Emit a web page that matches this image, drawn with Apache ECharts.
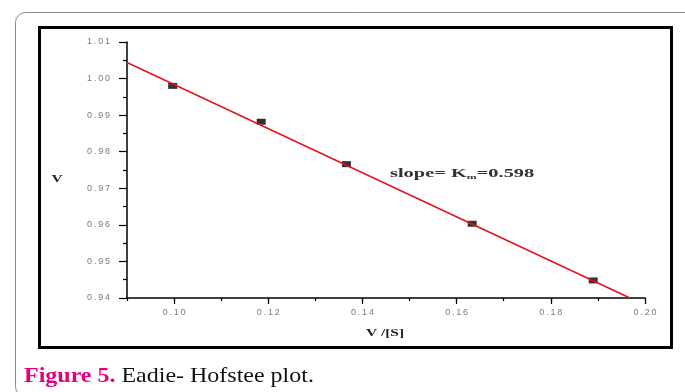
<!DOCTYPE html>
<html>
<head>
<meta charset="utf-8">
<script src="https://cdn.jsdelivr.net/npm/echarts@6/dist/echarts.min.js"></script>
<style>
html,body{margin:0;padding:0;background:#fff;}
#chart{width:685px;height:392px;}
</style>
</head>
<body>
<div id="chart"></div>
<script>
// Data
const vOverS = [0.0997, 0.1185, 0.1366, 0.1633, 0.189];
const vValues = [0.998, 0.9882, 0.9766, 0.9603, 0.9448];
const fitX = [0.09, 0.1968];
const fitY = [1.0044, 0.94];
const xMajorTicks = [0.10, 0.12, 0.14, 0.16, 0.18, 0.20];
const xTitle = 'V /[S]';
const yTitle = 'V';
const annotation = 'slope= K';
const annotationSub = 'm';
const annotationTail = '=0.598';
const captionBold = 'Figure 5.';
const captionRest = ' Eadie- Hofstee plot.';

const spaced = s => s.split('').join('\u2009');

const chart = echarts.init(document.getElementById('chart'));
const labelStyle = {color:'#7a7a7a', fontSize:9, fontFamily:'Liberation Sans, Arial, sans-serif'};

chart.setOption({
  backgroundColor:'#fff',
  animation:false,
  grid:{left:127, top:42, width:518, height:256},
  xAxis:[{
    type:'value', min:0.09, max:0.20, interval:0.01,
    axisLine:{lineStyle:{color:'#000', width:1.5}},
    axisTick:{length:3, lineStyle:{color:'#000', width:1.2}},
    axisLabel:Object.assign({margin:10, formatter:v=>{
      const k = Math.round(v*100);
      return (k % 2 === 0) ? spaced(v.toFixed(2)) : '';
    }}, labelStyle),
    splitLine:{show:false}
  },{
    type:'value', min:0.09, max:0.20, position:'bottom',
    axisLine:{show:false},
    axisTick:{show:true, length:6, customValues:xMajorTicks, lineStyle:{color:'#000', width:1.2}},
    axisLabel:{show:false},
    splitLine:{show:false}
  }],
  yAxis:{
    type:'value', min:0.94, max:1.01, interval:0.01,
    axisLine:{show:true, lineStyle:{color:'#000', width:1.5}},
    axisTick:{show:true, length:8, lineStyle:{color:'#000', width:1.2}},
    minorTick:{show:true, splitNumber:2, length:4, lineStyle:{color:'#000', width:1.2}},
    axisLabel:Object.assign({margin:17, formatter:v=>spaced(v.toFixed(2))}, labelStyle),
    splitLine:{show:false}
  },
  series:[{
    type:'line',
    data:fitX.map((x,i)=>[x, fitY[i]]),
    symbol:'none',
    lineStyle:{color:'#e3121b', width:1.5},
    z:3
  },{
    type:'scatter',
    data:vOverS.map((x,i)=>[x, vValues[i]]),
    symbol:'rect',
    symbolSize:[9,6],
    itemStyle:{color:'#000'},
    z:2
  }],
  graphic:[
    {type:'rect', shape:{x:15.5, y:12.5, width:700, height:384, r:10}, style:{fill:'none', stroke:'#8a8a8a', lineWidth:1}, z:-10},
    {type:'rect', shape:{x:39.5, y:27.5, width:632, height:320}, style:{fill:'none', stroke:'#000', lineWidth:3}, z:-5},
    {type:'text', x:57, y:179, scaleX:1.4, style:{text:yTitle, font:'bold 11px "Liberation Serif", serif', fill:'#222', align:'center', verticalAlign:'middle'}},
    {type:'text', x:385, y:333, scaleX:1.4, style:{text:xTitle, font:'bold 11px "Liberation Serif", serif', fill:'#222', align:'center', verticalAlign:'middle'}},
    {type:'text', x:390, y:174, scaleX:1.7, style:{
      text:'{a|'+annotation+'}{s|'+annotationSub+'}{a|'+annotationTail+'}',
      verticalAlign:'middle',
      rich:{
        a:{font:'bold 12px "Liberation Serif", serif', fill:'#333', verticalAlign:'middle'},
        s:{font:'bold 7px "Liberation Serif", serif', fill:'#333', verticalAlign:'bottom', padding:[6,0,0,0]}
      }
    }},
    {type:'text', x:24, y:376, scaleX:1.09, style:{
      text:'{b|'+captionBold+'}{n|'+captionRest+'}',
      verticalAlign:'middle',
      rich:{
        b:{font:'bold 22px "Liberation Serif", serif', fill:'#e5007d'},
        n:{font:'22px "Liberation Serif", serif', fill:'#111'}
      }
    }}
  ]
});
</script>
</body>
</html>
